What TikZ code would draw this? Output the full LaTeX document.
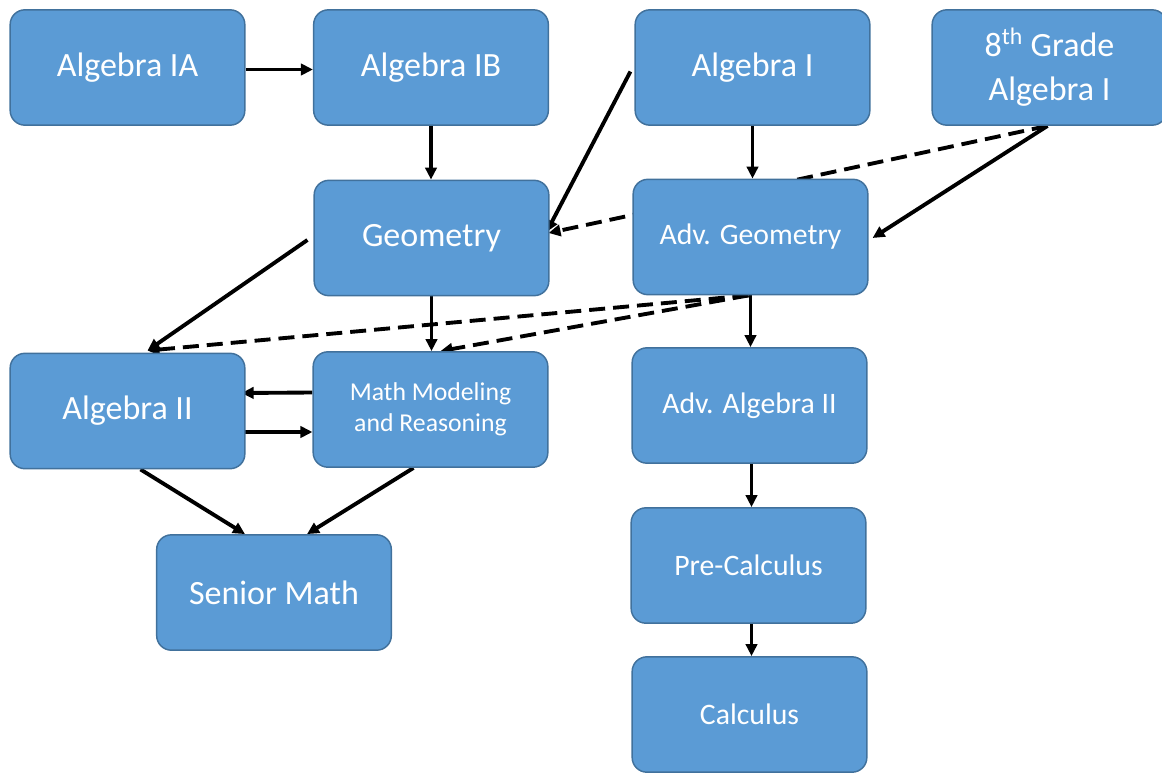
\documentclass[tikz,border=0pt]{standalone}
\usepackage{fontspec}
\setmainfont{Carlito}
\usetikzlibrary{arrows.meta,calc}
\definecolor{boxfill}{HTML}{5B9BD5}
\definecolor{boxline}{HTML}{41719C}
\pgfdeclarelayer{background}
\pgfsetlayers{background,main}
\begin{document}
\begin{tikzpicture}[x=0.75pt,y=-0.75pt,
  course/.style={draw=boxline, line width=1.1pt, fill=boxfill, rounded corners=11pt,
    minimum width=176pt, minimum height=86.5pt, inner sep=0pt, text=white, align=center},
  big/.style={font=\fontsize{25.5}{33}\selectfont},
  small/.style={font=\fontsize{22.3}{26}\selectfont},
  tiny/.style={font=\fontsize{19.3}{23.5}\selectfont},
  link/.style={line width=2.9pt, -{Triangle[length=9pt,width=8.5pt]}},
  dlink/.style={link, dash pattern=on 12pt off 6pt}]
\useasboundingbox (0,0) rectangle (1162,774);
\node[course,big] (alg1a) at (127.5,67.5) {Algebra IA};
\node[course,big] (alg1b) at (431,67.5) {Algebra IB};
\node[course,big] (alg1) at (752.5,67.5) {Algebra I};
\node[course,big] (eighth) at (1049.5,67.5) {8\textsuperscript{th} Grade\\Algebra I};
\node[course,big] (geo) at (431.5,238) {Geometry};
\node[course,small] (advgeo) at (750.5,237) {Adv. Geometry};
\node[course,big] (alg2) at (127.5,411) {Algebra II};
\node[course,tiny] (mmr) at (430.5,409.5) {Math Modeling\\and Reasoning};
\node[course,small] (advalg2) at (749.5,405.5) {Adv. Algebra II};
\node[course,big] (senior) at (274,592.5) {Senior Math};
\node[course,small] (precalc) at (748.5,565.5) {Pre-Calculus};
\node[course,small] (calc) at (749.5,714.5) {Calculus};
\begin{pgfonlayer}{background}
\draw[link] ($(alg1a.east)+(0,2)$) -- ($(alg1b.west)+(0,2)$);
\draw[link] (alg1b.south) -- (alg1b.south |- geo.north);
\draw[link] ($(alg1.west)+(-4,4)$) -- ($(geo.east)+(-3,-6)$);
\draw[link] (alg1.south) -- (alg1.south |- advgeo.north);
\draw[dlink] ($(eighth.south)+(-2,0)$) -- ($(geo.east)+(-1,-5)$);
\draw[link] ($(eighth.south)+(-2,0)$) -- ($(advgeo.east)+(4,1)$);
\draw[link] ($(geo.west)+(-6,2)$) -- ($(alg2.north)+(20,-2)$);
\draw[dlink] ($(advgeo.south)+(-2,0)$) -- ($(alg2.north)+(20,-2)$);
\draw[dlink] ($(advgeo.south)+(-2,0)$) -- ($(mmr.north)+(10,0)$);
\draw[link] (geo.south) -- (geo.south |- mmr.north);
\draw[link] (advgeo.south) -- (advgeo.south |- advalg2.north);
\draw[link] ($(mmr.west)+(0,-17)$) -- ($(alg2.east)+(-4,-18)$);
\draw[link] ($(alg2.east)+(-2,21)$) -- ($(mmr.west)+(0,22.5)$);
\draw[link] ($(alg2.south)+(13,0)$) -- ($(senior.north)+(-29,0)$);
\draw[link] ($(mmr.south)+(-17,0)$) -- ($(senior.north)+(33,0)$);
\draw[link] ($(advalg2.south)+(2,0)$) -- ($(advalg2.south |- precalc.north)+(2,0)$);
\draw[link] ($(precalc.south)+(3,0)$) -- ($(precalc.south |- calc.north)+(3,0)$);
\end{pgfonlayer}
\end{tikzpicture}
\end{document}
